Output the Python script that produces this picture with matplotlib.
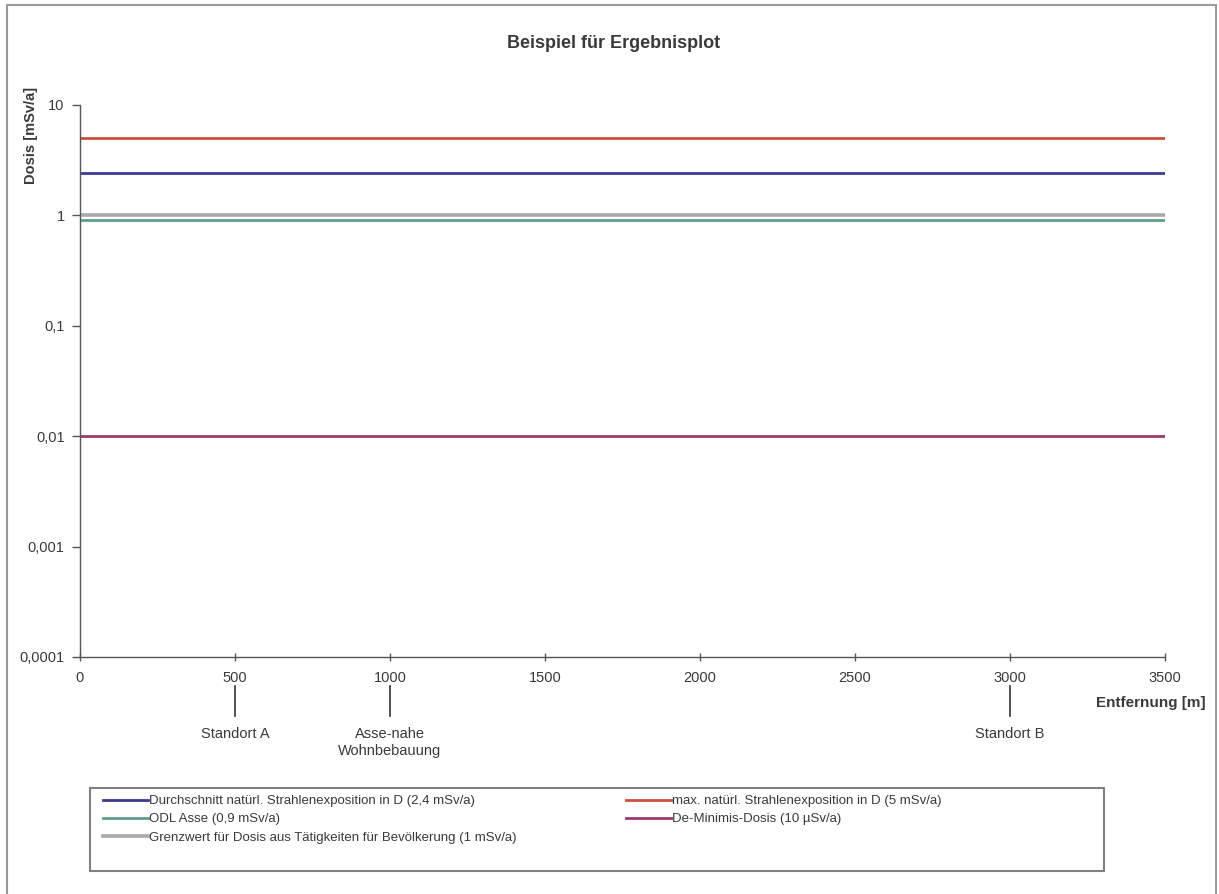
import numpy as np
import matplotlib
matplotlib.use('Agg')
import matplotlib.pyplot as plt
from matplotlib.patches import Rectangle
from matplotlib.transforms import blended_transform_factory

plt.rc('font', family=['Liberation Sans', 'DejaVu Sans'], size=10.5)

# DATEN
entfernung = [0, 3500]
dosis_durchschnitt = [2.4, 2.4]
dosis_max = [5.0, 5.0]
dosis_odl = [0.9, 0.9]
dosis_deminimis = [0.01, 0.01]
dosis_grenzwert = [1.0, 1.0]

namen = ['Durchschnitt natürl. Strahlenexposition in D (2,4 mSv/a)',
         'max. natürl. Strahlenexposition in D (5 mSv/a)',
         'ODL Asse (0,9 mSv/a)',
         'De-Minimis-Dosis (10 µSv/a)',
         'Grenzwert für Dosis aus Tätigkeiten für Bevölkerung (1 mSv/a)']

y_ticks = [0.0001, 0.001, 0.01, 0.1, 1, 10]
y_ticklabels = ['0,0001', '0,001', '0,01', '0,1', '1', '10']
x_ticks = [0, 500, 1000, 1500, 2000, 2500, 3000, 3500]

standorte = [500, 1000, 3000]
standort_namen = ['Standort A', 'Asse-nahe\nWohnbebauung', 'Standort B']
# DATEN

W, H = 1219, 894
textfarbe = '#3a3a3a'
fig = plt.figure(figsize=(W / 100, H / 100), dpi=100)
ax = fig.add_axes([80 / W, 1 - 657 / H, (1165 - 80) / W, (657 - 105) / H])

# rahmen um das diagramm
fig.patches.append(Rectangle((7 / W, -0.05), (1216 - 7) / W, 1.05 - 5 / H,
                             transform=fig.transFigure, fill=False,
                             edgecolor='#9a9a9a', linewidth=1.5))
# rahmen der legende
fig.patches.append(Rectangle((90 / W, 1 - 871 / H), (1104 - 90) / W, (871 - 788) / H,
                             transform=fig.transFigure, fill=False,
                             edgecolor='#808080', linewidth=1.5))

l_grenz, = ax.plot(entfernung, dosis_grenzwert, color='#a9a9a9', lw=2.6)
l_odl, = ax.plot(entfernung, dosis_odl, color='#5f9e8f', lw=2)
l_durch, = ax.plot(entfernung, dosis_durchschnitt, color='#3b3b8e', lw=2)
l_max, = ax.plot(entfernung, dosis_max, color='#c8503c', lw=2)
l_demin, = ax.plot(entfernung, dosis_deminimis, color='#9c3a6c', lw=2)

ax.set_yscale('log')
ax.set_ylim(0.0001, 10)
ax.set_xlim(0, 3500)
ax.set_yticks(y_ticks)
ax.set_yticklabels(y_ticklabels)
ax.yaxis.set_minor_locator(matplotlib.ticker.NullLocator())
ax.set_xticks(x_ticks)
ax.tick_params(axis='y', direction='out', length=6, width=1, color='#555555',
               pad=5, labelcolor=textfarbe, labelsize=10.5)
ax.tick_params(axis='x', direction='inout', length=6, width=1, color='#555555',
               pad=7, labelcolor=textfarbe, labelsize=10.5)

for s in ['top', 'right']:
    ax.spines[s].set_visible(False)
for s in ['left', 'bottom']:
    ax.spines[s].set_color('#555555')
    ax.spines[s].set_linewidth(1)

fig.text(614 / W, 1 - 43 / H, 'Beispiel für Ergebnisplot', ha='center', va='center',
         fontsize=13, fontweight='bold', color=textfarbe)
fig.text(31 / W, 1 - 135 / H, 'Dosis [mSv/a]', rotation=90, ha='center',
         va='center', fontsize=10.5, fontweight='bold', color=textfarbe)
fig.text(1206 / W, 1 - 703 / H, 'Entfernung [m]', ha='right', va='center',
         fontsize=11, fontweight='bold', color=textfarbe)

trans = blended_transform_factory(ax.transData, ax.transAxes)
for x, name in zip(standorte, standort_namen):
    ax.plot([x, x], [-(686 - 657) / 552, -(716 - 657) / 552], transform=trans,
            color='#333333', lw=1.2, clip_on=False)
    ax.text(x, -(727 - 657) / 552, name, transform=trans, ha='center', va='top',
            fontsize=10.5, color=textfarbe, linespacing=1.25)

handles = [l_durch, l_max, l_odl, l_demin, l_grenz]
# reihenweise anordnen (2 spalten)
order = [0, 2, 4, 1, 3]
leg = fig.legend([handles[i] for i in order], [namen[i] for i in order],
                 ncol=2, loc='upper left',
                 bbox_to_anchor=(103 / W, 1 - 795 / H),
                 fontsize=9.5, frameon=False, handlelength=3.4, handletextpad=0.1,
                 labelspacing=0.45, borderaxespad=0, borderpad=0, columnspacing=8.3)
for t in leg.get_texts():
    t.set_color(textfarbe)

fig.savefig('out.png', dpi=100)
